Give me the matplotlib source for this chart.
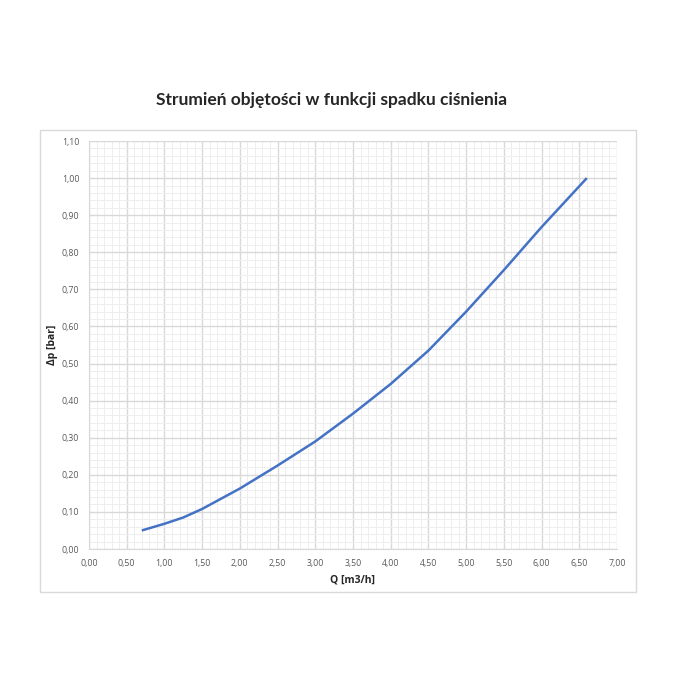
import matplotlib
matplotlib.use("Agg")
import matplotlib.pyplot as plt
from matplotlib.patches import Rectangle
from matplotlib.ticker import MultipleLocator, FuncFormatter

title = "Strumień objętości w funkcji spadku ciśnienia"
x_label = "Q [m3/h]"
y_label = "Δp [bar]"
q_values = [0.7, 1.0, 1.25, 1.5, 2.0, 2.5, 3.0, 3.5, 4.0, 4.5, 5.0, 5.5, 6.0, 6.6]
dp_values = [0.05, 0.068, 0.085, 0.108, 0.163, 0.225, 0.29, 0.365, 0.445, 0.535, 0.64, 0.752, 0.868, 1.0]

plt.rcParams['font.family'] = ['Open Sans', 'DejaVu Sans']

fig = plt.figure(figsize=(7, 7), dpi=100)
fig.patches.append(Rectangle((40/700, 1-592/700), 596/700, 462/700, transform=fig.transFigure,
                             fill=False, edgecolor='#d9d9d9', linewidth=1.0))
ax = fig.add_axes([89/700, 1-549/700, 528/700, 408/700])
ax.plot(q_values, dp_values, color='#4472C4', linewidth=1.8, solid_capstyle='butt', zorder=3)
ax.set_xlim(0, 7)
ax.set_ylim(0, 1.1)
ax.xaxis.set_major_locator(MultipleLocator(0.5))
ax.xaxis.set_minor_locator(MultipleLocator(0.1))
ax.yaxis.set_major_locator(MultipleLocator(0.1))
ax.yaxis.set_minor_locator(MultipleLocator(0.02))
fmt = FuncFormatter(lambda v, p: f"{v:.2f}".replace('.', ','))
ax.xaxis.set_major_formatter(fmt)
ax.yaxis.set_major_formatter(fmt)
ax.grid(which='major', color='#d9d9d9', linewidth=1.0)
ax.grid(which='minor', color='#eeeeee', linewidth=0.7)
ax.set_axisbelow(True)
for s in ['top', 'right']:
    ax.spines[s].set_visible(False)
for s in ['left', 'bottom']:
    ax.spines[s].set_color('#d9d9d9')
ax.tick_params(which='both', length=0, labelsize=6.3, labelcolor='#595959', pad=7)
ax.set_xlabel(x_label, fontsize=7.5, fontweight='bold', color='#262626')
ax.set_ylabel(y_label, fontsize=7.5, fontweight='bold', color='#262626')
ax.xaxis.set_label_coords(0.5, (549-575)/408)
ax.yaxis.set_label_coords((58-89)/528, 0.5)
fig.text(332/700, 1-100/700, title, ha='center', va='center', fontsize=12.5, fontweight='bold',
         color='#262626', family=['Lato', 'DejaVu Sans'])
fig.savefig("out.png", dpi=100, facecolor='white')
